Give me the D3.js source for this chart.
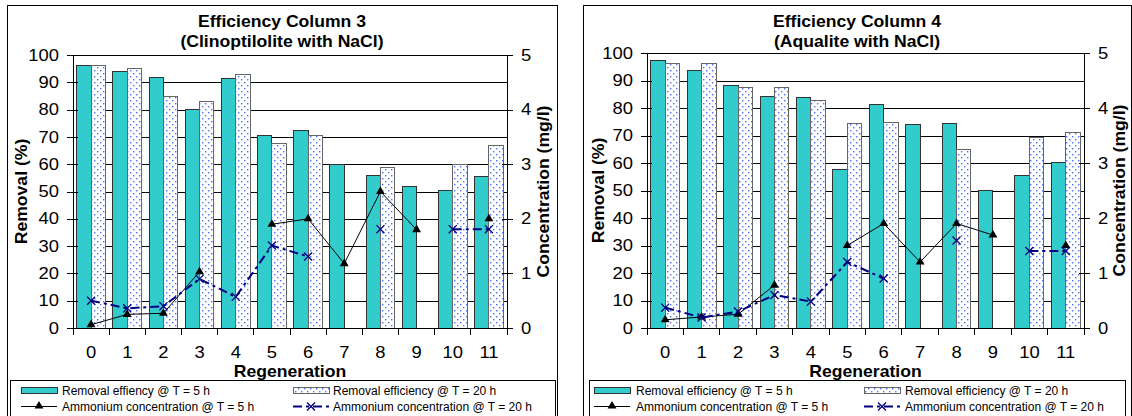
<!DOCTYPE html>
<html>
<head>
<meta charset="utf-8">
<script src="https://cdn.jsdelivr.net/npm/d3@7"></script>
<style>
  body { margin: 0; background: #fff; }
  svg { display: block; font-family: "Liberation Sans", Arial, sans-serif; }
</style>
</head>
<body>
<script>
/* Efficiency of columns 3 and 4 over the regenerations — two combo charts */

const categories = ['0', '1', '2', '3', '4', '5', '6', '7', '8', '9', '10', '11'];
const removalTicks = [0, 10, 20, 30, 40, 50, 60, 70, 80, 90, 100];
const concTicks = [0, 1, 2, 3, 4, 5];

// Column 3 (Clinoptilolite with NaCl)
const col3Removal5h  = [96, 94, 91.7, 80, 91.4, 70.6, 72.2, 59.8, 55.7, 52, 50.2, 55.4];
const col3Removal20h = [96, 95.1, 84.7, 82.9, 92.7, 67.7, 70.6, null, 58.7, null, 59.8, 66.7];
const col3Ammonium5h  = [0.06, 0.25, 0.27, 1.03, null, 1.9, 2.0, 1.18, 2.5, 1.8, null, 2.0];
const col3Ammonium20h = [0.5, 0.36, 0.4, 0.9, 0.57, 1.51, 1.31, null, 1.81, null, 1.81, 1.81];

// Column 4 (Aqualite with NaCl)
const col4Removal5h  = [97.2, 93.6, 88.3, 84.2, 83.8, 57.6, 81.1, 73.9, 74.2, 49.9, 55.3, 60.2];
const col4Removal20h = [96.3, 96.3, 87.4, 87.4, 82.8, 74.2, 74.9, null, 64.8, null, 69.4, 71.1];
const col4Ammonium5h  = [0.15, 0.2, 0.25, 0.78, null, 1.5, 1.9, 1.2, 1.9, 1.69, null, 1.5];
const col4Ammonium20h = [0.37, 0.19, 0.3, 0.6, 0.48, 1.2, 0.9, null, 1.59, null, 1.4, 1.4];

const col3Legend = ['Removal effiency @ T = 5 h', 'Removal efficiency @ T = 20 h',
                    'Ammonium concentration @ T = 5 h', 'Ammonium concentration @ T = 20 h'];
const col4Legend = ['Removal efficiency @ T = 5 h', 'Removal efficiency @ T = 20 h',
                    'Ammonium concentration @ T = 5 h', 'Ammonium concentration @ T = 20 h'];

const TEAL = '#33cccc';
const NAVY = '#000080';

const charts = [
  {
    title: ['Efficiency Column 3', '(Clinoptilolite with NaCl)'],
    r5: col3Removal5h, r20: col3Removal20h, a5: col3Ammonium5h, a20: col3Ammonium20h,
    legendLabels: col3Legend,
    box: { x: 7, y: 5, w: 550 },
    plot: { l: 73, r: 507, t: 55, b: 328 },
    legend: { x: 10, y: 380, w: 545, sw1: 21, tx1: 62, sw2: 293, tx2: 333 },
    yTitleX: 21, y2TitleX: 543,
  },
  {
    title: ['Efficiency Column 4', '(Aqualite with NaCl)'],
    r5: col4Removal5h, r20: col4Removal20h, a5: col4Ammonium5h, a20: col4Ammonium20h,
    legendLabels: col4Legend,
    box: { x: 583, y: 5, w: 548 },
    plot: { l: 647, r: 1084, t: 53, b: 328 },
    legend: { x: 589, y: 380, w: 536, sw1: 594, tx1: 636, sw2: 864, tx2: 905 },
    yTitleX: 598, y2TitleX: 1119,
  },
];

const svg = d3.select('body').append('svg')
  .attr('width', 1132).attr('height', 416);

/* dotted fill used by the 20 h bars */
const pat = svg.append('defs').append('pattern')
  .attr('id', 'dots').attr('patternUnits', 'userSpaceOnUse')
  .attr('width', 6).attr('height', 6);
pat.append('rect').attr('width', 6).attr('height', 6).attr('fill', '#fff');
pat.append('rect').attr('x', 1).attr('y', 1).attr('width', 1.4).attr('height', 1.4).attr('fill', '#4a70ff');
pat.append('rect').attr('x', 4).attr('y', 4).attr('width', 1.4).attr('height', 1.4).attr('fill', '#4a70ff');

/* the original text renders wider than it is tall */
function stretch(sel, sx) {
  sel.each(function () {
    const t = d3.select(this);
    const x = +t.attr('x') || 0;
    t.attr('x', x / sx).attr('transform', `scale(${sx},1)`);
  });
}

charts.forEach(drawChart);

function drawChart(cfg) {
  const p = cfg.plot;
  const g = svg.append('g');

  g.append('rect')
    .attr('x', cfg.box.x + 0.5).attr('y', cfg.box.y + 0.5)
    .attr('width', cfg.box.w).attr('height', 440)
    .attr('fill', '#fff').attr('stroke', '#000');

  const x = d3.scaleBand(categories, [p.l, p.r]);
  const xs = d3.scaleBand(['t5', 't20'], [0, x.bandwidth()]).paddingOuter(0.265);
  const yL = d3.scaleLinear([0, 100], [p.b, p.t]);
  const yR = d3.scaleLinear([0, 5], [p.b, p.t]);

  /* gridlines */
  g.append('g')
    .attr('transform', `translate(${p.l},0)`)
    .call(d3.axisLeft(yL).tickValues(removalTicks.slice(1)).tickSize(-(p.r - p.l)).tickFormat(''))
    .call(a => a.select('.domain').remove())
    .selectAll('line').attr('stroke', '#000').attr('shape-rendering', 'crispEdges');

  /* bars */
  const rows = categories.map((c, i) => ({ c, r5: cfg.r5[i], r20: cfg.r20[i] }));
  g.append('g').selectAll('rect')
    .data(rows)
    .join('rect')
    .attr('x', d => x(d.c) + xs('t5'))
    .attr('y', d => yL(d.r5))
    .attr('width', xs.bandwidth())
    .attr('height', d => yL(0) - yL(d.r5))
    .attr('fill', TEAL).attr('stroke', '#333')
    .attr('shape-rendering', 'crispEdges');

  g.append('g').selectAll('rect')
    .data(rows.filter(d => d.r20 != null))
    .join('rect')
    .attr('x', d => x(d.c) + xs('t20'))
    .attr('y', d => yL(d.r20))
    .attr('width', xs.bandwidth())
    .attr('height', d => yL(0) - yL(d.r20))
    .attr('fill', 'url(#dots)').attr('stroke', '#666')
    .attr('shape-rendering', 'crispEdges');

  /* axes */
  const axLeft = g.append('g')
    .attr('transform', `translate(${p.l},0)`)
    .call(d3.axisLeft(yL).tickValues(removalTicks).tickSize(6).tickSizeOuter(0).tickPadding(8));
  axLeft.selectAll('.tick line').attr('x1', 5).attr('x2', -6);

  const axRight = g.append('g')
    .attr('transform', `translate(${p.r},0)`)
    .call(d3.axisRight(yR).tickValues(concTicks).tickFormat(d3.format('d'))
      .tickSize(6).tickSizeOuter(0).tickPadding(8));
  axRight.selectAll('.tick line').attr('x1', -5).attr('x2', 6);

  const axBottom = g.append('g')
    .attr('transform', `translate(0,${p.b})`)
    .call(d3.axisBottom(x).tickSize(0).tickSizeOuter(0).tickPadding(19));

  const bounds = categories.map(c => x(c)).concat([x(categories[categories.length - 1]) + x.bandwidth()]);
  g.append('g').selectAll('line')
    .data(bounds)
    .join('line')
    .attr('x1', d => d).attr('x2', d => d)
    .attr('y1', p.b).attr('y2', p.b + 7)
    .attr('stroke', '#000').attr('shape-rendering', 'crispEdges');

  [axLeft, axRight, axBottom].forEach(a => {
    a.attr('font-size', 16).attr('font-family', null);
    a.select('.domain').attr('stroke', '#000').attr('shape-rendering', 'crispEdges');
    a.selectAll('.tick line').attr('stroke', '#000').attr('shape-rendering', 'crispEdges');
    a.selectAll('.tick text').attr('fill', '#000').call(stretch, 1.15);
  });

  /* ammonium lines */
  const cx = c => x(c) + x.bandwidth() / 2;
  const pts5 = categories.map((c, i) => ({ c, v: cfg.a5[i] }));
  const pts20 = categories.map((c, i) => ({ c, v: cfg.a20[i] }));
  const line = d3.line().defined(d => d.v != null).x(d => cx(d.c)).y(d => yR(d.v));

  g.append('path').datum(pts5)
    .attr('d', line).attr('fill', 'none')
    .attr('stroke', '#000').attr('stroke-width', 1);
  g.append('g').selectAll('path')
    .data(pts5.filter(d => d.v != null))
    .join('path')
    .attr('transform', d => `translate(${cx(d.c)},${yR(d.v)})`)
    .attr('d', d3.symbol(d3.symbolTriangle, 34))
    .attr('fill', '#000');

  g.append('path').datum(pts20)
    .attr('d', line).attr('fill', 'none')
    .attr('stroke', NAVY).attr('stroke-width', 2)
    .attr('stroke-dasharray', '9,4,3,4');
  g.append('g').selectAll('path')
    .data(pts20.filter(d => d.v != null))
    .join('path')
    .attr('transform', d => `translate(${cx(d.c)},${yR(d.v)})`)
    .attr('d', d3.symbol(d3.symbolX, 44))
    .attr('fill', 'none').attr('stroke', NAVY).attr('stroke-width', 1.3);

  /* titles */
  const midBox = cfg.box.x + cfg.box.w / 2;
  cfg.title.forEach((t, i) => {
    g.append('text')
      .attr('x', midBox).attr('y', 27 + i * 20)
      .attr('text-anchor', 'middle')
      .attr('font-size', 16).attr('font-weight', 'bold')
      .text(t)
      .call(stretch, 1.1);
  });

  g.append('text')
    .attr('x', (p.l + p.r) / 2).attr('y', 377)
    .attr('text-anchor', 'middle')
    .attr('font-size', 16).attr('font-weight', 'bold')
    .text('Regeneration')
    .call(stretch, 1.1);

  const midY = (p.t + p.b) / 2;
  [[cfg.yTitleX, 'Removal (%)'], [cfg.y2TitleX, 'Concentration (mg/l)']].forEach(([tx, label]) => {
    g.append('text')
      .attr('transform', `translate(${tx},${midY}) rotate(-90) scale(1.1,1)`)
      .attr('dy', '0.35em')
      .attr('text-anchor', 'middle')
      .attr('font-size', 16).attr('font-weight', 'bold')
      .text(label);
  });

  /* legend */
  const L = cfg.legend;
  const lg = g.append('g');
  lg.append('rect')
    .attr('x', L.x + 0.5).attr('y', L.y + 0.5)
    .attr('width', L.w).attr('height', 50)
    .attr('fill', '#fff').attr('stroke', '#000');

  lg.append('rect')
    .attr('x', L.sw1 + 0.5).attr('y', 387.5).attr('width', 36).attr('height', 6)
    .attr('fill', TEAL).attr('stroke', '#333');
  lg.append('rect')
    .attr('x', L.sw2 + 0.5).attr('y', 387.5).attr('width', 36).attr('height', 6)
    .attr('fill', 'url(#dots)').attr('stroke', '#666');

  lg.append('line')
    .attr('x1', L.sw1).attr('x2', L.sw1 + 36).attr('y1', 406.5).attr('y2', 406.5)
    .attr('stroke', '#000');
  lg.append('path')
    .attr('transform', `translate(${L.sw1 + 18},406)`)
    .attr('d', d3.symbol(d3.symbolTriangle, 34)).attr('fill', '#000');

  lg.append('line')
    .attr('x1', L.sw2).attr('x2', L.sw2 + 36).attr('y1', 406.5).attr('y2', 406.5)
    .attr('stroke', NAVY).attr('stroke-width', 2).attr('stroke-dasharray', '9,4,3,4');
  lg.append('path')
    .attr('transform', `translate(${L.sw2 + 18},406.5)`)
    .attr('d', d3.symbol(d3.symbolX, 44))
    .attr('fill', 'none').attr('stroke', NAVY).attr('stroke-width', 1.3);

  const legendPos = [[L.tx1, 395], [L.tx2, 395], [L.tx1, 411], [L.tx2, 411]];
  cfg.legendLabels.forEach((label, i) => {
    lg.append('text')
      .attr('x', legendPos[i][0]).attr('y', legendPos[i][1])
      .attr('font-size', 12)
      .text(label);
  });
}
</script>
</body>
</html>
